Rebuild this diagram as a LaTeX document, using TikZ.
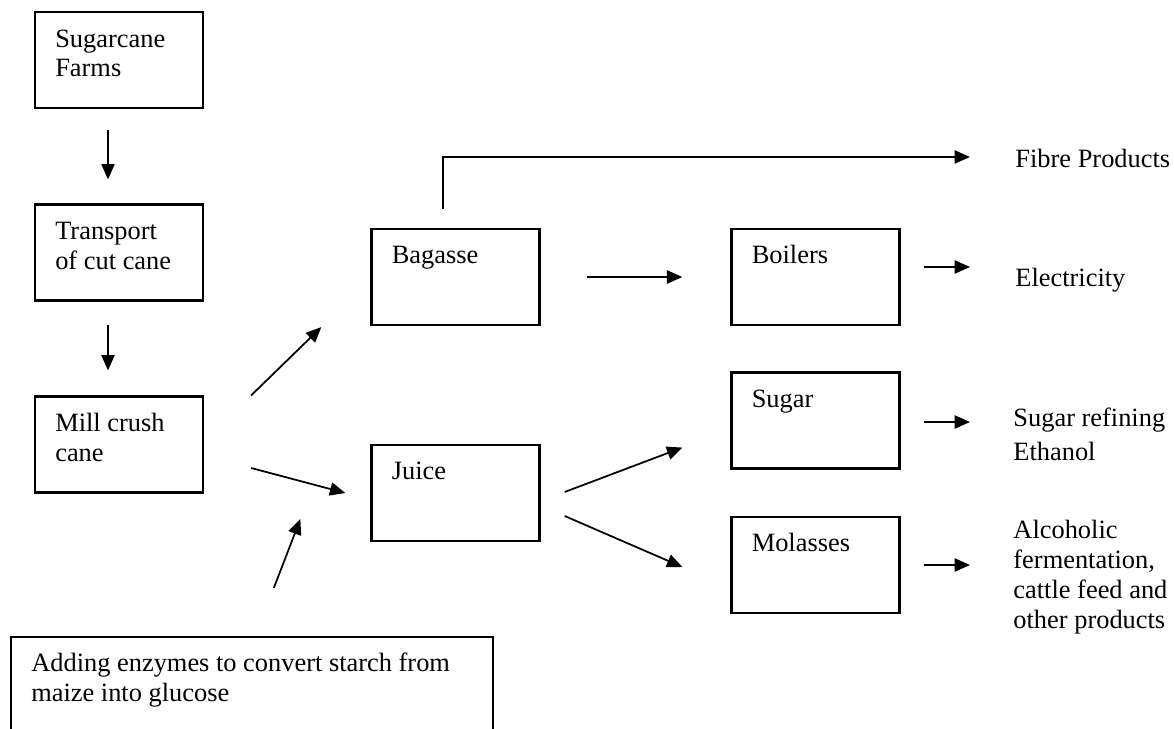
\documentclass[tikz,border=0pt]{standalone}
\usepackage{fontspec}
\setmainfont{Liberation Serif}
\usetikzlibrary{arrows.meta,calc}

\begin{document}
\begin{tikzpicture}[x=0.4545pt,y=-0.4545pt,
  stage/.style={draw,line width=1pt,minimum width=76.4pt,minimum height=43.6pt,inner sep=0pt},
  lbl/.style={anchor=base west,align=left,inner sep=0pt,font=\fontsize{12}{13.6}\selectfont},
  flow/.style={-{Triangle[length=7pt,width=6pt]},line width=0.8pt}]
\clip (0,0) rectangle (1174,729);
% process boxes
\node[stage] (farms) at (119,60) {};
\node[stage] (trans) at (119,252.5) {};
\node[stage] (mill) at (119,444.5) {};
\node[stage] (bagasse) at (455.5,277) {};
\node[stage] (juice) at (455.5,493) {};
\node[stage] (boilers) at (815.5,277) {};
\node[stage] (sugar) at (815.5,420.5) {};
\node[stage] (molasses) at (815.5,565) {};
\node[stage,minimum width=219.1pt,minimum height=60pt] (enzyme) at (252,703) {};
% box texts (base = last line)
\node[lbl] at ($(farms.north west)+(21,66)$) {Sugarcane\\Farms};
\node[lbl] at ($(trans.north west)+(21,66)$) {Transport\\of cut cane};
\node[lbl] at ($(mill.north west)+(21,66)$) {Mill crush\\cane};
\node[lbl] at ($(bagasse.north west)+(21,36)$) {Bagasse};
\node[lbl] at ($(juice.north west)+(21,36)$) {Juice};
\node[lbl] at ($(boilers.north west)+(21,36)$) {Boilers};
\node[lbl] at ($(sugar.north west)+(21,36)$) {Sugar};
\node[lbl] at ($(molasses.north west)+(21,36)$) {Molasses};
\node[lbl] at ($(enzyme.north west)+(21,66)$) {Adding enzymes to convert starch from\\maize into glucose};
% products
\node[lbl] (fibre) at (1015,167) {Fibre Products};
\node[lbl] (elec) at (1015,287) {Electricity};
\node[lbl] (refine) at (1013,460) {Sugar refining\\[1.4pt]Ethanol};
\node[lbl] (ferment) at (1013,628) {Alcoholic\\fermentation,\\cattle feed and\\other products};
% flows
\draw[flow] ($(farms.south)+(-11,21)$) -- ($(trans.north)+(-11,-24)$);
\draw[flow] ($(trans.south)+(-11,23)$) -- ($(mill.north)+(-11,-25)$);
\draw[flow] ($(mill.north east)+(47,0)$) -- ($(bagasse.south west)+(-49,1)$);
\draw[flow] ($(mill.east)+(47,23.5)$) -- ($(juice.west)+(-25,0)$);
\draw[flow] ($(enzyme.north west)+(264,-48)$) -- ($(juice.south west)+(-70,-23)$);
\draw[flow] ($(bagasse.north)+(-12.5,-19)$) |- ($(fibre.west)+(-45,-1)$);
\draw[flow] ($(bagasse.east)+(46,0)$) -- ($(boilers.west)+(-48,0)$);
\draw[flow] ($(boilers.east)+(23,-10)$) -- ($(boilers.east -| elec.west)+(-45,-10)$);
\draw[flow] ($(juice.east)+(24,-1)$) -- ($(sugar.south west)+(-48,-22)$);
\draw[flow] ($(juice.east)+(24,23)$) -- ($(molasses.west)+(-48,2)$);
\draw[flow] ($(sugar.east)+(23,1.5)$) -- ($(sugar.east -| refine.west)+(-43,1.5)$);
\draw[flow] ($(molasses.east)+(23,0)$) -- ($(molasses.east -| ferment.west)+(-43,0)$);
\end{tikzpicture}
\end{document}
